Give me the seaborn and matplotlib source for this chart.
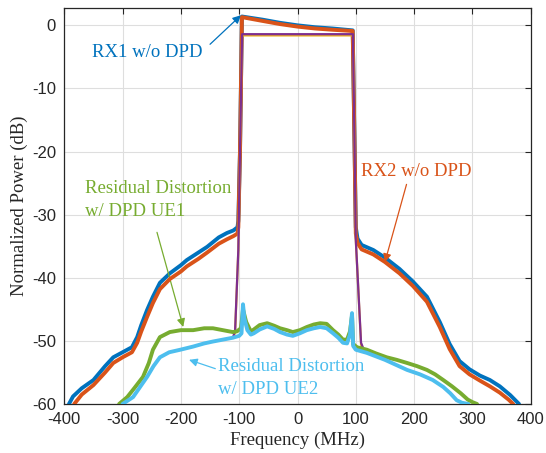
import numpy as np
import pandas as pd
import matplotlib
matplotlib.use("Agg")
import matplotlib.pyplot as plt
import seaborn as sns

# ---------------- data ----------------
rx1_f = [-392, -385, -370, -350, -330, -316, -300, -284, -275, -268, -258, -248, -236, -219,
         -200, -190, -170, -155, -135, -121, -110, -103, -101.5, -98.6, -95.3, -60, -30, 0, 30, 60,
         94.7, 98, 100, 103, 110, 130, 150, 175, 198, 222, 244, 261, 278, 295, 313, 330, 347, 365, 380]
rx1_p = [-60, -58.8, -57.5, -56.2, -54.0, -52.6, -51.8, -51.0, -49.4, -47.5, -45.1, -43.0, -40.8, -39.3,
         -38.0, -37.2, -36.0, -35.1, -33.6, -32.9, -32.5, -32.0, -31.0, -19.8, 1.4, 0.9, 0.4, 0.0, -0.3, -0.5,
         -0.8, -20.0, -32.0, -33.8, -34.8, -35.6, -36.8, -38.6, -40.6, -43.0, -47.0, -50.5, -53.2, -54.5, -55.5,
         -56.2, -57.2, -58.6, -60]

rx2_f = [-383, -370, -350, -330, -316, -300, -284, -275, -268, -258, -248, -236, -219, -200, -190,
         -170, -155, -135, -121, -110, -103, -101.5, -98.6, -95.3, -60, -30, 0, 30, 60, 94.7, 98, 100, 103,
         110, 130, 150, 175, 198, 222, 244, 261, 278, 295, 313, 330, 347, 362, 370]
rx2_p = [-60, -58.5, -57.0, -55.0, -53.5, -52.6, -51.8, -50.3, -48.5, -46.2, -44.0, -41.8, -40.2, -39.0,
         -38.2, -37.0, -36.0, -34.6, -33.9, -33.4, -33.0, -32.0, -19.8, 1.3, 0.7, 0.2, -0.2, -0.5, -0.7,
         -0.9, -20.0, -33.0, -34.5, -35.5, -36.3, -37.5, -39.3, -41.3, -43.8, -47.8, -51.3, -54.0, -55.3,
         -56.3, -57.2, -58.2, -59.3, -60]

dpd_f = [-110, -107, -101.5, -98.6, -95, -60, 0, 60, 95, 98, 100, 109, 112]
dpd1_p = [-49.5, -48.6, -35.6, -19.8, -1.6, -1.6, -1.6, -1.6, -1.6, -20.0, -34.0, -50.6, -51.2]
dpd2_p = [-49.3, -48.3, -35.6, -19.8, -1.4, -1.4, -1.4, -1.4, -1.4, -20.0, -34.0, -50.3, -51.0]

ue1_f = [-306, -292, -280, -265, -255, -248, -236, -219, -200, -179, -160, -145, -128, -111, -104,
         -97, -93.5, -88, -80, -75, -65, -52, -40, -30, -18, -8, 4, 16, 28, 39, 50, 61, 70, 78, 85,
         90, 93.5, 95.5, 102, 119, 135, 153, 170, 188, 205, 222, 236, 250, 265, 280, 292, 300, 308]
ue1_p = [-60, -58.9, -57.5, -55.7, -53.5, -51.4, -49.4, -48.6, -48.3, -48.3, -48.0, -48.0, -48.3, -48.6,
         -48.5, -48.0, -45.0, -47.0, -48.5, -48.2, -47.5, -47.2, -47.6, -48.0, -48.3, -48.6, -48.3, -47.8,
         -47.4, -47.2, -47.3, -48.3, -49.0, -49.8, -49.8, -48.5, -46.0, -50.5, -51.0, -51.4, -52.0, -52.6,
         -53.0, -53.5, -54.0, -54.6, -55.3, -56.2, -57.2, -58.3, -59.3, -59.7, -60]

ue2_f = [-300, -282, -270, -258, -247, -236, -220, -201, -179, -160, -145, -128, -111, -100, -96,
         -93.5, -91, -86, -80, -75, -65, -52, -40, -30, -18, -8, 4, 16, 28, 39, 50, 61, 70, 78, 85,
         90, 93.5, 95.5, 100, 119, 150, 188, 210, 232, 250, 262, 273, 282, 293]
ue2_p = [-60, -58.9, -57.3, -55.7, -54.0, -52.6, -51.8, -51.4, -50.9, -50.4, -50.1, -49.8, -49.5, -49.2,
         -48.8, -44.2, -46.5, -48.3, -49.0, -48.8, -48.2, -47.7, -48.1, -48.6, -49.0, -49.2, -48.8, -48.3,
         -48.0, -47.8, -48.0, -48.8, -49.5, -50.3, -50.4, -49.0, -45.6, -50.8, -51.4, -51.9, -53.0, -54.6,
         -55.3, -56.2, -57.3, -58.3, -59.4, -59.8, -60]

xticks = [-400, -300, -200, -100, 0, 100, 200, 300, 400]
yticks = [-60, -50, -40, -30, -20, -10, 0]

C_BLUE, C_ORANGE, C_YELLOW = "#0072BD", "#D95319", "#EDB120"
C_PURPLE, C_GREEN, C_LBLUE = "#7E2F8E", "#77AC30", "#4DBEEE"

# ---------------- figure ----------------
sns.set_style("white")
plt.rcParams["font.family"] = ["Liberation Serif", "DejaVu Serif"]

fig = plt.figure(figsize=(5.46, 4.53), dpi=100)
ax = fig.add_axes([64.3 / 546, 1 - 404 / 453, (530.7 - 64.3) / 546, (404 - 8.3) / 453])

series = [
    (rx1_f, rx1_p, C_BLUE, 2.8),
    (rx2_f, rx2_p, C_ORANGE, 2.8),
    (dpd_f, dpd1_p, C_YELLOW, 1.6),
    (dpd_f, dpd2_p, C_PURPLE, 1.6),
    (ue1_f, ue1_p, C_GREEN, 2.8),
    (ue2_f, ue2_p, C_LBLUE, 2.8),
]
for i, (f, p, c, lw) in enumerate(series):
    df = pd.DataFrame({"f": f, "p": p})
    sns.lineplot(data=df, x="f", y="p", ax=ax, color=c, linewidth=lw,
                 sort=False, estimator=None, zorder=3 + i)

ax.set_xlim(-400, 400)
ax.set_ylim(-60, 2.7)
ax.set_xticks(xticks)
ax.set_yticks(yticks)
ax.set_xticklabels([str(t) for t in xticks], fontfamily="Liberation Sans", fontsize=12)
ax.set_yticklabels([str(t) for t in yticks], fontfamily="Liberation Sans", fontsize=12)
ax.tick_params(direction="in", length=4, width=0.8, color="#262626", top=True, right=True,
               labelcolor="#262626", pad=6)
ax.grid(True, color="#dedede", linewidth=0.8, zorder=0)
ax.set_axisbelow(True)
for s in ax.spines.values():
    s.set_color("#262626")
    s.set_linewidth(0.9)
ax.set_xlabel("Frequency (MHz)", fontsize=13.5, labelpad=3)
ax.set_ylabel("Normalized Power (dB)", fontsize=13.5, labelpad=3)

# annotations
arrow = dict(arrowstyle="-|>", lw=0.9, shrinkA=0, shrinkB=0, mutation_scale=12)
ax.text(-258, -4.3, "RX1 w/o DPD", color=C_BLUE, fontsize=13.5, ha="center", va="center")
ax.annotate("", xy=(-97, 1.6), xytext=(-150, -3.0), arrowprops=dict(arrow, color=C_BLUE))

ax.text(204, -23.2, "RX2 w/o DPD", color=C_ORANGE, fontsize=13.5, ha="center", va="center")
ax.annotate("", xy=(150, -37.5), xytext=(187, -25.2), arrowprops=dict(arrow, color=C_ORANGE))

ax.text(-364, -27.7, "Residual Distortion\nw/ DPD UE1", color=C_GREEN, fontsize=13.5,
        ha="left", va="center", linespacing=1.45)
ax.annotate("", xy=(-196, -47.8), xytext=(-241, -32.8), arrowprops=dict(arrow, color=C_GREEN))

ax.text(-136, -55.9, "Residual Distortion\nw/ DPD UE2", color=C_LBLUE, fontsize=13.5,
        ha="left", va="center", linespacing=1.45)
ax.annotate("", xy=(-186, -53.0), xytext=(-141, -54.4), arrowprops=dict(arrow, color=C_LBLUE))

fig.savefig("out.png", dpi=100)
